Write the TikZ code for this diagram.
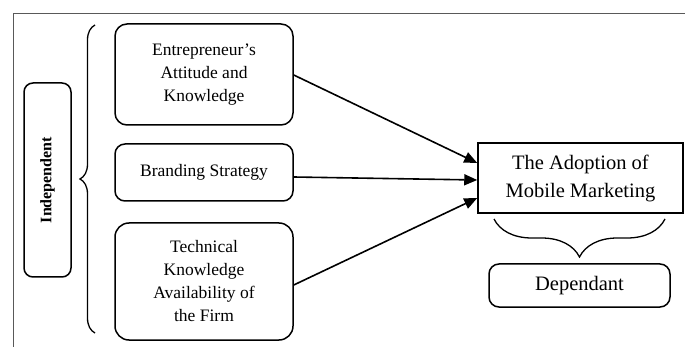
\documentclass[tikz,border=0pt]{standalone}
\usepackage{fontspec}
\setmainfont{Liberation Serif}
\usetikzlibrary{arrows.meta,decorations.pathreplacing}
\begin{document}
\begin{tikzpicture}[x=1pt,y=-1pt,
  box/.style={draw,line width=1.5pt,rounded corners=12pt,inner sep=0pt,align=center,
    font=\fontsize{17.5}{23}\selectfont},
  bigbox/.style={draw,line width=1.5pt,inner sep=0pt,align=center,
    font=\fontsize{20.5}{28}\selectfont},
  arr/.style={line width=1.6pt,-{Triangle[length=13pt,width=11pt]}},
  brc/.style={line width=1.3pt,decorate},
  frame/.style={draw=black!65,line width=0.9pt}]
\useasboundingbox (0,0) rectangle (685,347);
\coordinate (fa) at (13,347);
\coordinate (fb) at (13,13);
\coordinate (fc) at (685,13);
\draw[frame] (fa) -- (fb) -- (fc);

\node[box,rounded corners=9pt,rotate=90,minimum width=194pt,minimum height=47pt,
  font=\fontsize{16}{20}\selectfont\bfseries] (ind) at (47.5,180) {Independent};

\node[box,minimum width=178pt,minimum height=101pt] (b1) at (204,74.5)
  {Entrepreneur’s\\Attitude and\\Knowledge};
\node[box,rounded corners=10pt,minimum width=178pt,minimum height=57pt] (b2) at (204,172.5)
  {\raisebox{4pt}{Branding Strategy}};
\node[box,rounded corners=14pt,minimum width=178pt,minimum height=117pt] (b3) at (204,281.5)
  {Technical\\Knowledge\\Availability of\\the Firm};

\node[bigbox,minimum width=205pt,minimum height=70pt] (T) at (580.5,178)
  {The Adoption of\\Mobile Marketing};
\node[box,rounded corners=10pt,minimum width=181pt,minimum height=43pt,
  font=\fontsize{20.5}{24}\selectfont] (D) at (579.5,285.5) {\raisebox{-4pt}{Dependant}};

\coordinate (lbA) at (95,333);
\coordinate (lbB) at (95,25);
\draw[brc,decoration={brace,amplitude=15pt}] (lbA) -- (lbB);
\coordinate (bbA) at (665,219);
\coordinate (bbB) at (494,219);
\draw[brc,decoration={brace,amplitude=38pt}] (bbA) -- (bbB);

\draw[arr] ([yshift=-0.5pt]b1.east) -- ([yshift=15pt]T.west);
\draw[arr] ([yshift=-4.5pt]b2.east) -- ([yshift=-2pt]T.west);
\draw[arr] ([yshift=-3.5pt]b3.east) -- ([yshift=-20pt]T.west);
\end{tikzpicture}
\end{document}
